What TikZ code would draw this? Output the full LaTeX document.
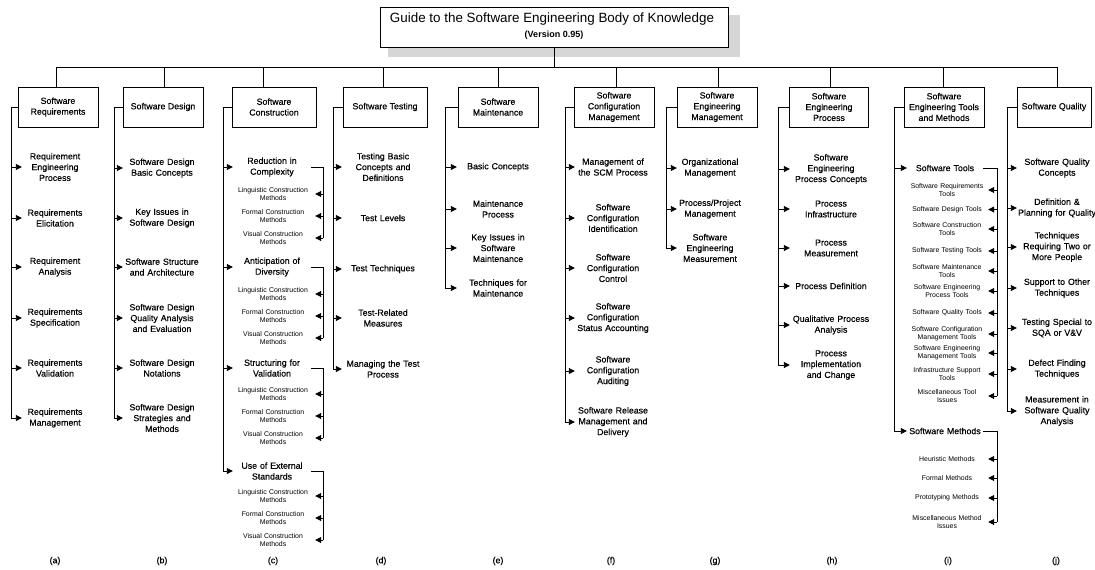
\documentclass[tikz,border=0pt]{standalone}
\usepackage{fontspec}
\setmainfont{Liberation Sans}
\newfontfamily\heavy{Liberation Sans}[FakeBold=0.35]
\usetikzlibrary{arrows.meta}
\newcommand\fMain{\heavy\fontsize{8.8}{10.8}\selectfont}
\newcommand\fSub{\fontsize{6.9}{8.2}\selectfont}
\newcommand\fTitle{\fontsize{13.4}{15}\selectfont}
\newcommand\fVer{\fontsize{9}{11}\selectfont\bfseries}
\begin{document}
\begin{tikzpicture}[x=1pt,y=-1pt,
  ln/.style={line width=0.9pt},
  hdr/.style={draw,line width=0.9pt,align=center,font=\fMain,inner sep=0pt,minimum height=40pt},
  item/.style={align=center,font=\fMain,inner xsep=0pt,inner ysep=1pt,text width=#1},
  sub/.style={align=center,font=\fSub,inner xsep=0pt,inner ysep=1pt,text width=#1},
  arr/.style={ln,-{Triangle[length=6pt,width=6pt]}},
  lbl/.style={font=\fMain}]
\useasboundingbox (0,0) rectangle (1095,570);

% ---------- title ----------
\fill[black!16] (388,15) rectangle (740,57);
\node[draw,ln,fill=white,minimum width=348pt,minimum height=40pt,inner sep=0pt] (tb) at (554,27) {};
\node[font=\fTitle,inner sep=0pt] (tt) at (552,19) {Guide to the Software Engineering Body of Knowledge};
\node[font=\fVer,inner sep=0pt] (tv) at (554,35) {(Version 0.95)};

% ---------- headers ----------
\node[hdr,minimum width=80pt] (hA) at (58,107) {Software\\Requirements};
\node[hdr,minimum width=80pt] (hB) at (163,107) {Software Design};
\node[hdr,minimum width=84pt] (hC) at (274,107) {Software\\Construction};
\node[hdr,minimum width=84pt] (hD) at (385,107) {Software Testing};
\node[hdr,minimum width=80pt] (hE) at (498,107) {Software\\Maintenance};
\node[hdr,minimum width=80pt] (hF) at (614,107) {Software\\Configuration\\Management};
\node[hdr,minimum width=80pt] (hG) at (717,107) {Software\\Engineering\\Management};
\node[hdr,minimum width=79pt] (hH) at (829,107) {Software\\Engineering\\Process};
\node[hdr,minimum width=80pt] (hI) at (944,107) {Software\\Engineering Tools\\and Methods};
\node[hdr,minimum width=74pt] (hJ) at (1054,107) {Software Quality};

% ---------- bus ----------
\coordinate (dA) at (56,67);  \coordinate (dB) at (164,67);
\coordinate (dC) at (263,67); \coordinate (dD) at (383,67);
\coordinate (dE) at (498,67); \coordinate (dF) at (616,67);
\coordinate (dG) at (718,67); \coordinate (dH) at (830,67);
\coordinate (dI) at (943,67); \coordinate (dJ) at (1057,67);
\draw[ln] (dA) -- (dJ);
\draw[ln] (tb.south) -- (tb.south |- dA);
\foreach \d/\h in {dA/hA,dB/hB,dC/hC,dD/hD,dE/hE,dF/hF,dG/hG,dH/hH,dI/hI,dJ/hJ}
  \draw[ln] (\d) -- (\d |- \h.north);

% ---------- column a ----------
\coordinate (sA) at (11,0);
\node[item=66pt] (a1) at (55,167) {Requirement\\Engineering\\Process};
\node[item=66pt] (a2) at (55,218) {Requirements\\Elicitation};
\node[item=66pt] (a3) at (55,267) {Requirement\\Analysis};
\node[item=66pt] (a4) at (55,318) {Requirements\\Specification};
\node[item=66pt] (a5) at (55,368) {Requirements\\Validation};
\node[item=66pt] (a6) at (55,418) {Requirements\\Management};
\draw[arr] (hA.west) -| (sA |- a6.west) -- (a6.west);
\foreach \n in {a1,a2,a3,a4,a5} \draw[arr] (sA |- \n.west) -- (\n.west);

% ---------- column b ----------
\coordinate (sB) at (114,0);
\node[item=78pt] (b1) at (162,168) {Software Design\\Basic Concepts};
\node[item=78pt] (b2) at (162,218) {Key Issues in\\Software Design};
\node[item=78pt] (b3) at (162,267) {Software Structure\\and Architecture};
\node[item=78pt] (b4) at (162,318) {Software Design\\Quality Analysis\\and Evaluation};
\node[item=78pt] (b5) at (162,368) {Software Design\\Notations};
\node[item=78pt] (b6) at (162,418) {Software Design\\Strategies and\\Methods};
\draw[arr] (hB.west) -| (sB |- b6.west) -- (b6.west);
\foreach \n in {b1,b2,b3,b4,b5} \draw[arr] (sB |- \n.west) -- (\n.west);

% ---------- column c ----------
\coordinate (sC) at (223,0);
\coordinate (bC) at (323,0);
\node[item=78pt] (c1) at (272,167) {Reduction in\\Complexity};
\node[item=78pt] (c2) at (272,267) {Anticipation of\\Diversity};
\node[item=78pt] (c3) at (272,368) {Structuring for\\Validation};
\node[item=78pt] (c4) at (272,471) {Use of External\\Standards};
\foreach \m/\y in {c1/194,c2/294,c3/394,c4/496}{
  \node[sub=84pt] (\m a) at (273,\y) {Linguistic Construction\\Methods};
  \node[sub=84pt] (\m b) at (273,\y+22) {Formal Construction\\Methods};
  \node[sub=84pt] (\m c) at (273,\y+44) {Visual Construction\\Methods};
  \draw[ln] (\m.east) -| (bC |- \m c.east);
  \foreach \s in {a,b,c} \draw[arr] (bC |- \m\s.east) -- (\m\s.east);
}
\draw[arr] (hC.west) -| (sC |- c4.west) -- (c4.west);
\foreach \n in {c1,c2,c3} \draw[arr] (sC |- \n.west) -- (\n.west);

% ---------- column d ----------
\coordinate (sD) at (333,0);
\node[item=82pt] (d1) at (383,167) {Testing Basic\\Concepts and\\Definitions};
\node[item=82pt] (d2) at (383,218) {Test Levels};
\node[item=82pt] (d3) at (383,269) {Test Techniques};
\node[item=82pt] (d4) at (383,318) {Test-Related\\Measures};
\node[item=82pt] (d5) at (383,369) {Managing the Test\\Process};
\draw[arr] (hD.west) -| (sD |- d5.west) -- (d5.west);
\foreach \n in {d1,d2,d3,d4} \draw[arr] (sD |- \n.west) -- (\n.west);

% ---------- column e ----------
\coordinate (sE) at (445,0);
\node[item=82pt] (e1) at (498,167) {Basic Concepts};
\node[item=82pt] (e2) at (498,209) {Maintenance\\Process};
\node[item=82pt] (e3) at (498,248) {Key Issues in\\Software\\Maintenance};
\node[item=82pt] (e4) at (498,288) {Techniques for\\Maintenance};
\draw[arr] (hE.west) -| (sE |- e4.west) -- (e4.west);
\foreach \n in {e1,e2,e3} \draw[arr] (sE |- \n.west) -- (\n.west);

% ---------- column f ----------
\coordinate (sF) at (565,0);
\node[item=76pt] (f1) at (613,167) {Management of\\the SCM Process};
\node[item=76pt] (f2) at (613,218) {Software\\Configuration\\Identification};
\node[item=76pt] (f3) at (613,268) {Software\\Configuration\\Control};
\node[item=76pt] (f4) at (613,318) {Software\\Configuration\\Status Accounting};
\node[item=76pt] (f5) at (613,371) {Software\\Configuration\\Auditing};
\node[item=76pt] (f6) at (613,422) {Software Release\\Management and\\Delivery};
\draw[arr] (hF.west) -| (sF |- f6.west) -- (f6.west);
\foreach \n in {f1,f2,f3,f4,f5} \draw[arr] (sF |- \n.west) -- (\n.west);

% ---------- column g ----------
\coordinate (sG) at (666,0);
\node[item=66pt] (g1) at (710,168) {Organizational\\Management};
\node[item=66pt] (g2) at (710,209) {Process/Project\\Management};
\node[item=66pt] (g3) at (710,248) {Software\\Engineering\\Measurement};
\draw[arr] (hG.west) -| (sG |- g3.west) -- (g3.west);
\foreach \n in {g1,g2} \draw[arr] (sG |- \n.west) -- (\n.west);

% ---------- column h ----------
\coordinate (sH) at (778,0);
\node[item=82pt] (h1) at (831,169) {Software\\Engineering\\Process Concepts};
\node[item=82pt] (h2) at (831,209) {Process\\Infrastructure};
\node[item=82pt] (h3) at (831,248) {Process\\Measurement};
\node[item=82pt] (h4) at (831,286) {Process Definition};
\node[item=82pt] (h5) at (831,325) {Qualitative Process\\Analysis};
\node[item=82pt] (h6) at (831,365) {Process\\Implementation\\and Change};
\draw[arr] (hH.west) -| (sH |- h6.west) -- (h6.west);
\foreach \n in {h1,h2,h3,h4,h5} \draw[arr] (sH |- \n.west) -- (\n.west);

% ---------- column i ----------
\coordinate (sI) at (894,0);
\coordinate (bI) at (997,0);
\node[item=76pt] (i1) at (945,168) {Software Tools};
\node[item=76pt] (i2) at (945,431) {Software Methods};
\node[sub=82pt] (i1a) at (947,190) {Software Requirements\\Tools};
\node[sub=82pt] (i1b) at (947,209.5) {Software Design Tools};
\node[sub=82pt] (i1c) at (947,229) {Software Construction\\Tools};
\node[sub=82pt] (i1d) at (947,251) {Software Testing Tools};
\node[sub=82pt] (i1e) at (947,271) {Software Maintenance\\Tools};
\node[sub=82pt] (i1f) at (947,291) {Software Engineering\\Process Tools};
\node[sub=82pt] (i1g) at (947,313) {Software Quality Tools};
\node[sub=82pt] (i1h) at (947,334) {Software Configuration\\Management Tools};
\node[sub=82pt] (i1i) at (947,353) {Software Engineering\\Management Tools};
\node[sub=82pt] (i1j) at (947,374) {Infrastructure Support\\Tools};
\node[sub=82pt] (i1k) at (947,396) {Miscellaneous Tool\\Issues};
\node[sub=82pt] (i2a) at (947,459) {Heuristic Methods};
\node[sub=82pt] (i2b) at (947,478) {Formal Methods};
\node[sub=82pt] (i2c) at (947,498) {Prototyping Methods};
\node[sub=82pt] (i2d) at (947,522) {Miscellaneous Method\\Issues};
\draw[ln] (i1.east) -| (bI |- i1k.east);
\draw[ln] (i2.east) -| (bI |- i2d.east);
\foreach \n in {i1a,i1b,i1c,i1d,i1e,i1f,i1g,i1h,i1i,i1j,i1k,i2a,i2b,i2c,i2d}
  \draw[arr] (bI |- \n.east) -- (\n.east);
\draw[arr] (hI.west) -| (sI |- i2.west) -- (i2.west);
\draw[arr] (sI |- i1.west) -- (i1.west);

% ---------- column j ----------
\coordinate (sJ) at (1007,0);
\node[item=80pt] (j1) at (1057,168) {Software Quality\\Concepts};
\node[item=80pt] (j2) at (1057,208) {Definition \&\\Planning for Quality};
\node[item=80pt] (j3) at (1057,247) {Techniques\\Requiring Two or\\More People};
\node[item=80pt] (j4) at (1057,288) {Support to Other\\Techniques};
\node[item=80pt] (j5) at (1057,328) {Testing Special to\\SQA or V\&V};
\node[item=80pt] (j6) at (1057,369) {Defect Finding\\Techniques};
\node[item=80pt] (j7) at (1057,411) {Measurement in\\Software Quality\\Analysis};
\draw[arr] (hJ.west) -| (sJ |- j7.west) -- (j7.west);
\foreach \n in {j1,j2,j3,j4,j5,j6} \draw[arr] (sJ |- \n.west) -- (\n.west);

% ---------- labels ----------
\foreach \n/\x/\t in {la/55/a,lb/162/b,lc/273/c,ld/381/d,le/498/e,lf/611/f,lg/715/g,lh/832/h,li/948/i,lj/1056/j}
  \node[lbl] (\n) at (\x,561) {(\t)};
\end{tikzpicture}
\end{document}
